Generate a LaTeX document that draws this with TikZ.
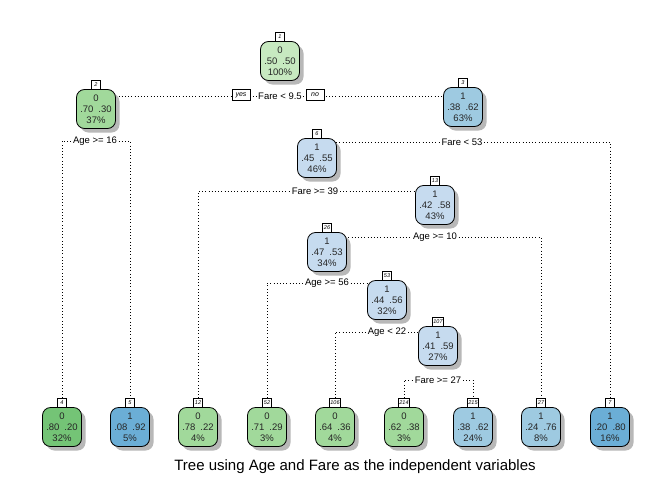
\documentclass[tikz,border=0pt]{standalone}
\usepackage{fontspec}
\setmainfont{Liberation Sans}
\usetikzlibrary{shadows,backgrounds}
\definecolor{gA}{HTML}{C7E9C0}
\definecolor{gB}{HTML}{A1D99B}
\definecolor{gC}{HTML}{74C476}
\definecolor{bA}{HTML}{C6DBEF}
\definecolor{bB}{HTML}{9ECAE1}
\definecolor{bC}{HTML}{6BAED6}
\begin{document}
\begin{tikzpicture}[x=1pt,y=-1pt,
 tnode/.style={draw=black, line width=0.8pt, rounded corners=8pt, minimum width=39pt, minimum height=39pt, inner sep=0pt, align=center, font=\fontsize{9.5}{11}\selectfont, text=black!85, drop shadow={shadow xshift=4pt, shadow yshift=-4pt, fill=black!28, opacity=1}},
 numlab/.style={draw=black, fill=white, line width=0.5pt, inner sep=0.8pt, minimum height=8.5pt, minimum width=9pt, font=\fontsize{5.5}{6}\selectfont\itshape, anchor=south},
 split/.style={fill=white, inner sep=1.5pt, font=\fontsize{9.5}{10}\selectfont},
 yn/.style={draw=black, fill=white, line width=0.5pt, inner sep=1.2pt, minimum height=11pt, minimum width=18pt, font=\fontsize{7}{8}\selectfont\itshape},
 br/.style={line width=0.8pt, dash pattern=on 0.8pt off 2.4pt}
]
\useasboundingbox (0,0) rectangle (672,480);
% internal nodes
\node[tnode, fill=gA] (n1) at (280,61) {0\\.50\hspace{5pt}.50\\100\%};
\node[tnode, fill=gB] (n2) at (96,109) {0\\.70\hspace{5pt}.30\\37\%};
\node[tnode, fill=bB] (n3) at (463,107) {1\\.38\hspace{5pt}.62\\63\%};
\node[tnode, fill=bA] (n6) at (317,158) {1\\.45\hspace{5pt}.55\\46\%};
\node[tnode, fill=bA] (n13) at (435,205) {1\\.42\hspace{5pt}.58\\43\%};
\node[tnode, fill=bA] (n26) at (327,252) {1\\.47\hspace{5pt}.53\\34\%};
\node[tnode, fill=bA] (n53) at (387,300) {1\\.44\hspace{5pt}.56\\32\%};
\node[tnode, fill=bA] (n107) at (438,346) {1\\.41\hspace{5pt}.59\\27\%};
% leaves
\node[tnode, fill=gC] (n4) at (62,427) {0\\.80\hspace{5pt}.20\\32\%};
\node[tnode, fill=bC] (n5) at (130,427) {1\\.08\hspace{5pt}.92\\5\%};
\node[tnode, fill=gB] (n12) at (198,427) {0\\.78\hspace{5pt}.22\\4\%};
\node[tnode, fill=gB] (n52) at (267,427) {0\\.71\hspace{5pt}.29\\3\%};
\node[tnode, fill=gB] (n106) at (335,427) {0\\.64\hspace{5pt}.36\\4\%};
\node[tnode, fill=gB] (n214) at (404,427) {0\\.62\hspace{5pt}.38\\3\%};
\node[tnode, fill=bB] (n215) at (473,427) {1\\.38\hspace{5pt}.62\\24\%};
\node[tnode, fill=bB] (n27) at (541,427) {1\\.24\hspace{5pt}.76\\8\%};
\node[tnode, fill=bC] (n7) at (610,427) {1\\.20\hspace{5pt}.80\\16\%};
% number labels
\foreach \k in {1,2,3,4,5,6,7,12,13,26,27,52,53,106,107,214,215}
  \node[numlab] (l\k) at (n\k.north) {\k};
% split labels
\node[split] (s1) at (280,96) {Fare < 9.5};
\node[split] (s2) at (95,141) {Age >= 16};
\node[split] (s3) at (462,142) {Fare < 53};
\node[split] (s6) at (315,191) {Fare >= 39};
\node[split] (s13) at (435,237) {Age >= 10};
\node[split] (s26) at (327,283) {Age >= 56};
\node[split] (s53) at (387,332) {Age < 22};
\node[split] (s107) at (438,380) {Fare >= 27};
\node[yn] (yes) at (241,95) {yes};
\node[yn] (no) at (315,95) {no};
% title
\node[font=\fontsize{15}{17}\selectfont] (title) at (355,467) {Tree using Age and Fare as the independent variables};
% branches
\begin{scope}[on background layer]
\fill[white] (0,0) rectangle (672,480);
\draw[br] (l2.north) |- (s1) -| (l3.north);
\draw[br] (l4.north) |- (s2) -| (l5.north);
\draw[br] (l6.north) |- (s3) -| (l7.north);
\draw[br] (l12.north) |- (s6) -| (l13.north);
\draw[br] (l26.north) |- (s13) -| (l27.north);
\draw[br] (l52.north) |- (s26) -| (l53.north);
\draw[br] (l106.north) |- (s53) -| (l107.north);
\draw[br] (l214.north) |- (s107) -| (l215.north);
\end{scope}
\end{tikzpicture}
\end{document}
